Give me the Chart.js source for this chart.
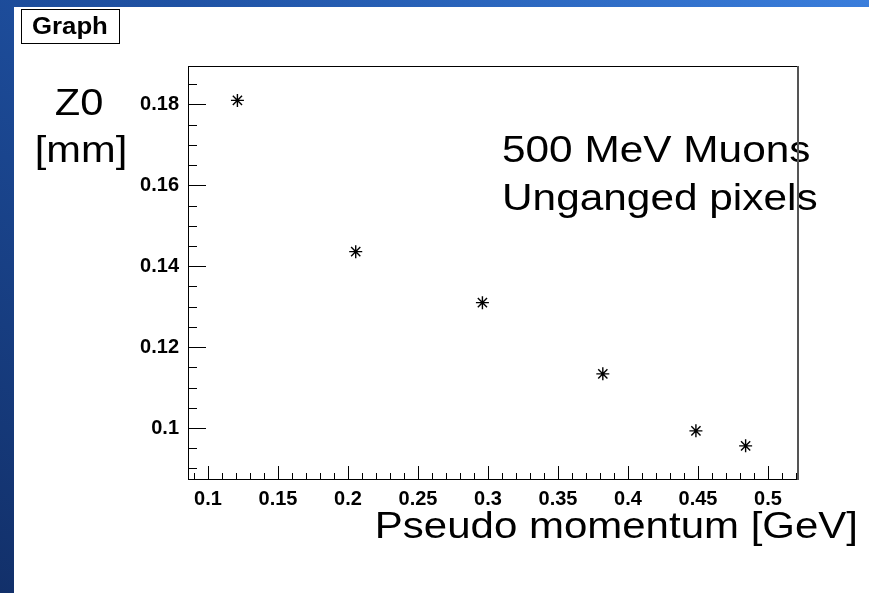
<!DOCTYPE html>
<html><head><meta charset="utf-8">
<script src="https://cdn.jsdelivr.net/npm/chart.js@4"></script>
<style>
html,body{margin:0;padding:0;width:869px;height:593px;overflow:hidden;}
body{background:linear-gradient(to bottom left,#3a7edc 0%,#1f52a4 40%,#12306a 100%);}
#paper{position:absolute;left:14px;top:7px;right:0;bottom:0;background:#fff;}
#wrap{position:absolute;left:0;top:0;width:869px;height:593px;}
</style></head><body>
<div id="paper"></div>
<div id="wrap"><canvas id="c"></canvas></div>
<script>
// ---- data ----
const momentum = [0.121, 0.2055, 0.296, 0.382, 0.4485, 0.484];
const z0 = [0.181, 0.1436, 0.131, 0.1134, 0.0993, 0.0956];
const xTickValues = [0.1, 0.15, 0.2, 0.25, 0.3, 0.35, 0.4, 0.45, 0.5];
const yTickValues = [0.1, 0.12, 0.14, 0.16, 0.18];
const xRange = [0.0857, 0.5207];
const yRange = [0.0874, 0.1895];
const xMinorStep = 0.01, yMinorStep = 0.005;
const titleText = 'Graph';
const xTitle = 'Pseudo momentum [GeV]';
const yTitleLines = ['Z0', '[mm]'];
const noteLines = ['500 MeV Muons', 'Unganged pixels'];

const FONT = '"Liberation Sans", Arial, sans-serif';
const SX = 1.125;
const SXW = 1.145;
const SXT = 1.135;

function sText(ctx, txt, x, y, align, font, sx) {
  ctx.save();
  ctx.font = font;
  ctx.textBaseline = 'alphabetic';
  ctx.textAlign = 'left';
  const w = ctx.measureText(txt).width * sx;
  const x0 = align === 'right' ? x - w : (align === 'center' ? x - w / 2 : x);
  ctx.translate(x0, y);
  ctx.scale(sx, 1);
  ctx.fillStyle = '#000';
  ctx.fillText(txt, 0, 0);
  ctx.restore();
}

const decor = {
  id: 'decor',
  beforeDatasetsDraw(chart) {
    const ctx = chart.ctx;
    const a = chart.chartArea;
    const xs = chart.scales.x, ys = chart.scales.y;
    ctx.save();
    ctx.strokeStyle = '#000';
    ctx.lineWidth = 1;
    ctx.beginPath();
    const y0 = Math.ceil(yRange[0] / yMinorStep - 1e-6);
    const y1 = Math.floor(yRange[1] / yMinorStep + 1e-6);
    for (let i = y0; i <= y1; i++) {
      const v = i * yMinorStep;
      const major = yTickValues.some(t => Math.abs(t - v) < 1e-6);
      const py = Math.round(ys.getPixelForValue(v)) + 0.5;
      ctx.moveTo(a.left, py);
      ctx.lineTo(a.left + (major ? 18 : 9), py);
    }
    const x0 = Math.ceil(xRange[0] / xMinorStep - 1e-6);
    const x1 = Math.floor(xRange[1] / xMinorStep + 1e-6);
    for (let i = x0; i <= x1; i++) {
      const v = i * xMinorStep;
      const major = xTickValues.some(t => Math.abs(t - v) < 1e-6);
      const px = Math.round(xs.getPixelForValue(v)) + 0.5;
      ctx.moveTo(px, a.bottom);
      ctx.lineTo(px, a.bottom - (major ? 13 : 6));
    }
    ctx.stroke();
    ctx.restore();

    sText(ctx, noteLines[0], 502, 162, 'left', '37px ' + FONT, SXW);
    sText(ctx, noteLines[1], 502, 210, 'left', '37px ' + FONT, SXW);
  },
  afterDraw(chart) {
    const ctx = chart.ctx;
    const a = chart.chartArea;
    ctx.save();
    ctx.strokeStyle = '#000';
    ctx.lineWidth = 1;
    ctx.strokeRect(Math.round(a.left) + 0.5, Math.round(a.top) + 0.5,
                   Math.round(a.right - a.left), Math.round(a.bottom - a.top));
    ctx.strokeStyle = '#555';
    ctx.lineWidth = 2;
    ctx.beginPath();
    ctx.moveTo(Math.round(a.right) + 1, Math.round(a.top));
    ctx.lineTo(Math.round(a.right) + 1, Math.round(a.bottom) + 1);
    ctx.stroke();

    ctx.strokeStyle = '#000';
    ctx.lineWidth = 1;
    ctx.strokeRect(21.5, 9.5, 98, 34);
    sText(ctx, titleText, 32, 33.5, 'left', 'bold 23px ' + FONT, 1.12);

    sText(ctx, yTitleLines[0], 79, 115, 'center', '37px ' + FONT, SX);
    sText(ctx, yTitleLines[1], 81, 162, 'center', '37px ' + FONT, SX);
    sText(ctx, xTitle, 858, 538, 'right', '37px ' + FONT, SXT);
    ctx.restore();
  }
};

new Chart(document.getElementById('c'), {
  type: 'scatter',
  data: {
    datasets: [{
      data: momentum.map((m, i) => ({ x: m, y: z0[i] })),
      pointStyle: 'star',
      pointRadius: 6.5,
      pointBorderWidth: 1.4,
      borderColor: '#000',
      backgroundColor: '#000',
      showLine: false
    }]
  },
  options: {
    responsive: true,
    maintainAspectRatio: false,
    animation: false,
    events: [],
    layout: { padding: { top: 66, right: 72, left: 0, bottom: 0 } },
    plugins: { legend: { display: false }, tooltip: { enabled: false }, title: { display: false } },
    scales: {
      x: {
        type: 'linear',
        min: xRange[0], max: xRange[1],
        grid: { display: false, drawTicks: false },
        border: { display: false },
        afterBuildTicks: s => { s.ticks = xTickValues.map(v => ({ value: v })); },
        afterFit: s => { s.height = 114; },
        ticks: {
          padding: 8,
          color: '#000',
          font: { family: FONT, size: 20, weight: 'bold' },
          maxRotation: 0, autoSkip: false,
          callback: v => String(Math.round(v * 100) / 100)
        }
      },
      y: {
        type: 'linear',
        min: yRange[0], max: yRange[1],
        grid: { display: false, drawTicks: false },
        border: { display: false },
        afterBuildTicks: s => { s.ticks = yTickValues.map(v => ({ value: v })); },
        afterFit: s => { s.width = 188; },
        ticks: {
          padding: 9,
          color: '#000',
          font: { family: FONT, size: 20, weight: 'bold' },
          autoSkip: false,
          callback: v => String(Math.round(v * 100) / 100)
        }
      }
    }
  },
  plugins: [decor]
});
</script>
</body></html>
